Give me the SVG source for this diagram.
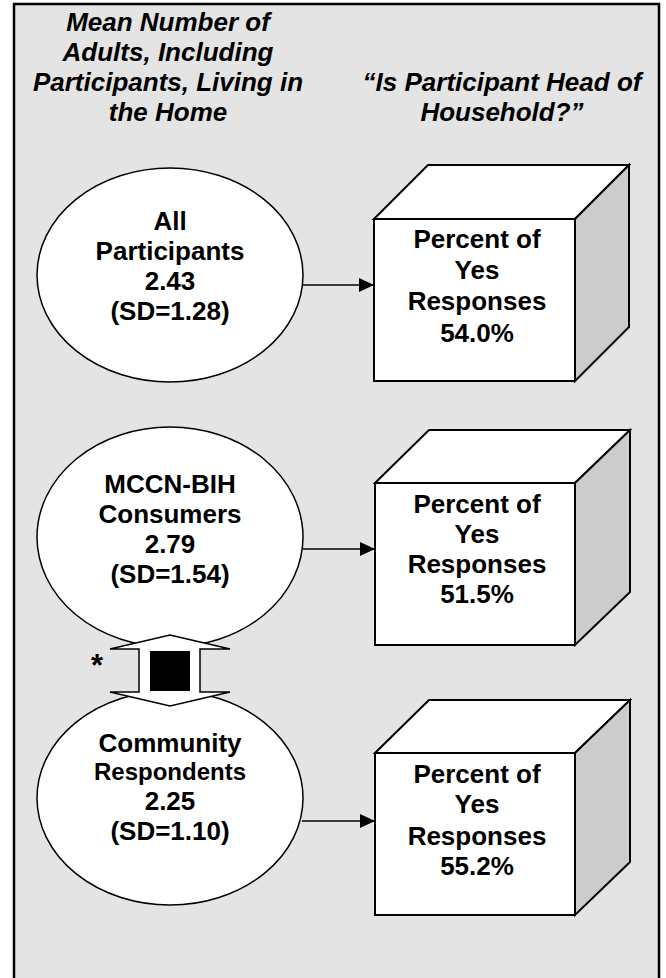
<svg xmlns="http://www.w3.org/2000/svg" width="666" height="978" viewBox="0 0 666 978">
<style>
.t{font-family:"Liberation Sans",Arial,sans-serif;font-weight:bold;font-size:26px;fill:#000;text-anchor:middle}
.h{font-style:italic}
.ell{fill:#fff;stroke:#000;stroke-width:1.5}
.face{fill:#fff;stroke:#000;stroke-width:2;stroke-linejoin:miter}
.side{fill:#cccccc;stroke:#000;stroke-width:2}
.con{stroke:#000;stroke-width:1.5;fill:none}
</style>
<defs>
<marker id="ah" markerUnits="userSpaceOnUse" markerWidth="16" markerHeight="14" refX="15" refY="7" orient="auto">
<path d="M0,0 L15,7 L0,14 z" fill="#000"/>
</marker>
</defs>
<rect x="0" y="0" width="666" height="978" fill="#fff"/>
<rect x="14" y="4" width="645" height="1000" fill="#e4e4e4" stroke="#000" stroke-width="2.5"/>
<g id="header-left">
<text class="t h" x="168" y="31">Mean Number of</text>
<text class="t h" x="168" y="61">Adults, Including</text>
<text class="t h" x="168" y="91">Participants, Living in</text>
<text class="t h" x="168" y="121">the Home</text>
</g>
<g id="header-right">
<text class="t h" x="502" y="91">“Is Participant Head of</text>
<text class="t h" x="502" y="121">Household?”</text>
</g>
<g id="connectors">
<line class="con" x1="302" y1="285" x2="374" y2="285" marker-end="url(#ah)"/>
<line class="con" x1="303" y1="549" x2="375" y2="549" marker-end="url(#ah)"/>
<line class="con" x1="302" y1="821" x2="375" y2="821" marker-end="url(#ah)"/>
</g>
<g id="all-participants">
<ellipse class="ell" cx="170" cy="275" rx="133" ry="107"/>
<text class="t" x="170" y="230">All</text>
<text class="t" x="170" y="260">Participants</text>
<text class="t" x="170" y="290">2.43</text>
<text class="t" x="170" y="320">(SD=1.28)</text>
</g>
<g id="mccn-consumers">
<ellipse class="ell" cx="170" cy="537" rx="133" ry="110"/>
<text class="t" x="170" y="493">MCCN-BIH</text>
<text class="t" x="170" y="523">Consumers</text>
<text class="t" x="170" y="553">2.79</text>
<text class="t" x="170" y="583">(SD=1.54)</text>
</g>
<g id="community-respondents">
<ellipse class="ell" cx="170" cy="798" rx="133" ry="107"/>
<text class="t" x="170" y="752">Community</text>
<text class="t" x="170" y="780" style="font-size:24px">Respondents</text>
<text class="t" x="170" y="810">2.25</text>
<text class="t" x="170" y="840">(SD=1.10)</text>
</g>
<g id="comparison">
<polygon points="170,635 230,649 200,649 200,692 230,692 170,706 110,692 139,692 139,649 110,649" fill="#fff" stroke="#000" stroke-width="1.5"/>
<rect x="150" y="651" width="40" height="40" fill="#000"/>
<text class="t" x="97" y="676" style="font-size:31px">*</text>
</g>
<g id="box-all">
<polygon class="face" points="374,219 428,165 629,165 575,219"/>
<polygon class="side" points="575,219 629,165 629,327 575,381"/>
<rect class="face" x="374" y="219" width="201" height="162"/>
<text class="t" x="477" y="248">Percent of</text>
<text class="t" x="477" y="279">Yes</text>
<text class="t" x="477" y="310">Responses</text>
<text class="t" x="477" y="342">54.0%</text>
</g>
<g id="box-mccn">
<polygon class="face" points="375,483 429,430 630,430 575,483"/>
<polygon class="side" points="575,483 630,430 630,592 575,645"/>
<rect class="face" x="375" y="483" width="200" height="162"/>
<text class="t" x="477" y="513">Percent of</text>
<text class="t" x="477" y="543">Yes</text>
<text class="t" x="477" y="573">Responses</text>
<text class="t" x="477" y="603">51.5%</text>
</g>
<g id="box-community">
<polygon class="face" points="375,753 429,700 630,700 575,753"/>
<polygon class="side" points="575,753 630,700 630,862 575,915"/>
<rect class="face" x="375" y="753" width="200" height="162"/>
<text class="t" x="477" y="783">Percent of</text>
<text class="t" x="477" y="813">Yes</text>
<text class="t" x="477" y="845">Responses</text>
<text class="t" x="477" y="875">55.2%</text>
</g>
</svg>
